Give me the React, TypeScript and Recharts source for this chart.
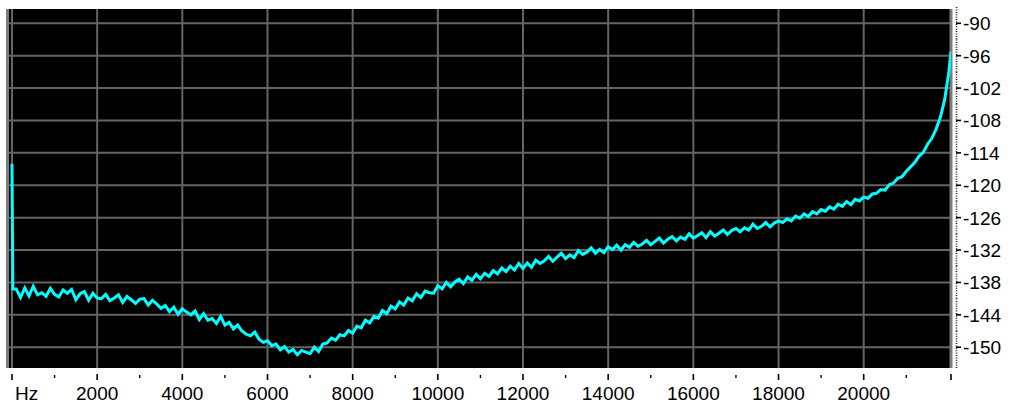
import React from 'react';
import { ComposedChart, Line, XAxis, YAxis, CartesianGrid, ReferenceLine } from 'recharts';

// ---- axis definitions ----
const xDomain = [-70, 22050];
const xMajorTicks = [0, 2000, 4000, 6000, 8000, 10000, 12000, 14000, 16000, 18000, 20000];
const xMajorLabels = ['Hz', '2000', '4000', '6000', '8000', '10000', '12000', '14000', '16000', '18000', '20000'];
const xMinorTicks = [1000, 3000, 5000, 7000, 9000, 11000, 13000, 15000, 17000, 19000, 21000];
const xEndTick = 22050;

const yDomain = [-153.85, -87.35];
const yTicks = [-90, -96, -102, -108, -114, -120, -126, -132, -138, -144, -150];
const yTickLabels = ['-90', '-96', '-102', '-108', '-114', '-120', '-126', '-132', '-138', '-144', '-150'];

// ---- series values (dB) ----
const startFreqs = [0, 20];
const startLevels = [-116, -139.2];
const freqStep = 100; // levels below are at 100, 200, ... 22000 Hz
const levels = [
  -139.2, -140.8, -139.0, -140.5, -138.7, -140.3, -139.9, -140.6, -139.1, -140.2,
  -140.7, -139.4, -140.0, -139.3, -141.2, -140.1, -139.7, -141.3, -140.0, -140.9,
  -141.0, -140.2, -141.4, -140.9, -140.3, -141.7, -140.6, -141.2, -141.9, -141.1,
  -141.0, -142.2, -141.3, -142.0, -142.8, -142.3, -143.4, -142.6, -143.9, -142.9,
  -143.5, -144.0, -143.3, -144.9, -143.8, -145.0, -144.7, -145.6, -144.3, -145.9,
  -145.4, -146.6, -145.9, -147.0, -147.6, -147.9, -147.2, -148.5, -149.1, -148.8,
  -149.7, -149.4, -150.5, -149.9, -150.9, -150.4, -151.4, -150.6, -150.9, -151.2,
  -150.0, -150.8, -149.4, -149.2, -148.3, -148.7, -147.7, -147.9, -146.9, -147.4,
  -146.1, -146.4, -145.0, -145.5, -144.3, -144.6, -143.2, -143.8, -142.4, -142.9,
  -141.6, -142.2, -140.9, -141.4, -140.1, -140.8, -139.6, -139.9, -140.0, -138.6,
  -139.2, -138.0, -138.8, -137.9, -137.4, -138.2, -137.0, -137.6, -136.5, -137.3,
  -136.3, -136.9, -135.8, -136.4, -135.3, -136.0, -135.0, -135.7, -134.5, -135.4,
  -134.4, -135.2, -133.9, -134.5, -134.0, -133.2, -134.1, -133.3, -132.6, -133.6,
  -132.9, -133.4, -132.1, -132.8, -132.4, -131.6, -132.6, -131.9, -132.5, -131.4,
  -131.9, -131.1, -132.0, -131.0, -131.5, -130.6, -131.3, -130.9, -130.2, -131.0,
  -130.4, -129.8, -130.7, -130.0, -129.5, -130.3, -129.6, -130.0, -129.0, -129.8,
  -129.3, -128.8, -129.7, -128.6, -129.4, -128.9, -128.3, -129.1, -128.4, -128.0,
  -128.6, -127.9, -128.3, -127.2, -128.0, -127.6, -126.9, -127.7, -127.0, -126.6,
  -126.9, -126.2, -126.6, -125.7, -126.1, -125.3, -125.8, -124.9, -125.3, -124.5,
  -124.8, -124.0, -124.4, -123.5, -123.9, -123.0, -123.6, -122.6, -122.9, -122.2,
  -122.4, -121.6, -121.5, -120.8, -120.9, -119.9, -119.6, -118.7, -118.4, -117.4,
  -116.6, -115.8, -114.6, -113.9, -112.4, -111.3, -109.6, -107.4, -104.2, -99.0,
];
const endFreqs = [22050];
const endLevels = [-95.2];

const data = [
  ...startFreqs.map((f, i) => ({ f, db: startLevels[i] })),
  ...levels.map((v, i) => ({ f: (i + 1) * freqStep, db: v })),
  ...endFreqs.map((f, i) => ({ f, db: endLevels[i] })),
];

const allXTicks = [...xMajorTicks, ...xMinorTicks, xEndTick].sort((a, b) => a - b);
const FONT = '"Liberation Sans", Arial, sans-serif';

const XTick = (props: any) => {
  const { x, y, payload } = props;
  const v = payload.value;
  const mi = xMajorTicks.indexOf(v);
  if (mi >= 0) {
    const label = xMajorLabels[mi];
    const isHz = label === 'Hz';
    return (
      <g>
        <line x1={x} x2={x} y1={y + 6} y2={y + 12} stroke="#000" strokeWidth={1.6} />
        <text
          x={isHz ? x + 3 : x}
          y={y + 32}
          textAnchor={isHz ? 'start' : 'middle'}
          fontFamily={FONT}
          fontSize={19}
          fill="#000"
        >
          {label}
        </text>
      </g>
    );
  }
  if (v === xEndTick) {
    return <line x1={x} x2={x} y1={y + 6} y2={y + 12} stroke="#000" strokeWidth={1.6} />;
  }
  return <line x1={x} x2={x} y1={y + 7} y2={y + 10} stroke="#000" strokeWidth={1.4} />;
};

const YTick = (props: any) => {
  const { x, y, payload } = props;
  const idx = yTicks.indexOf(payload.value);
  const label = idx >= 0 ? yTickLabels[idx] : String(payload.value);
  const isLast = idx === yTicks.length - 1;
  return (
    <g>
      <line
        x1={x + 5.5}
        x2={x + 5.5}
        y1={y - 16.2}
        y2={y + 16.2 + (isLast ? 5 : 0)}
        stroke="#222"
        strokeWidth={1.6}
        strokeDasharray="1 1.4"
      />
      <line x1={x + 5} x2={x + 10} y1={y} y2={y} stroke="#000" strokeWidth={1.6} />
      <text x={x + 12} y={y + 7} textAnchor="start" fontFamily={FONT} fontSize={19} fill="#000">
        {label}
      </text>
    </g>
  );
};

export default function App() {
  return (
    <div style={{ position: 'absolute', left: 0, top: 0, width: 1018, height: 405, background: '#fff' }}>
      <ComposedChart
        width={1018}
        height={405}
        data={data}
        margin={{ top: 9, right: 0, bottom: 0, left: 9 }}
      >
        <CartesianGrid
          fill="#000"
          fillOpacity={1}
          stroke="#646464"
          strokeWidth={2}
          verticalValues={xMajorTicks}
          horizontalValues={yTicks}
        />
        <XAxis
          dataKey="f"
          type="number"
          domain={xDomain}
          allowDataOverflow
          ticks={allXTicks}
          interval={0}
          height={37}
          tickSize={0}
          tickMargin={0}
          axisLine={false}
          tickLine={false}
          tick={<XTick />}
        />
        <YAxis
          orientation="right"
          type="number"
          domain={yDomain}
          allowDataOverflow
          ticks={yTicks}
          interval={0}
          width={67}
          tickSize={0}
          tickMargin={0}
          axisLine={false}
          tickLine={false}
          tick={<YTick />}
        />
        <ReferenceLine x={-105} stroke="#7c7c7c" strokeWidth={3} ifOverflow="visible" />
        <ReferenceLine x={xEndTick} stroke="#7c7c7c" strokeWidth={3} ifOverflow="visible" />
        <Line
          dataKey="db"
          type="linear"
          stroke="#00ffff"
          strokeWidth={3}
          dot={false}
          isAnimationActive={false}
        />
      </ComposedChart>
    </div>
  );
}
